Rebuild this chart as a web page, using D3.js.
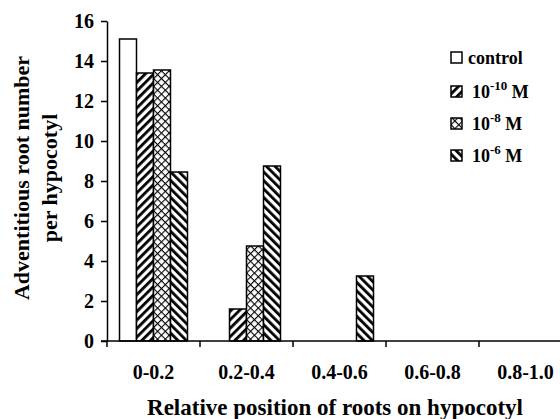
<!DOCTYPE html>
<html>
<head>
<meta charset="utf-8">
<script src="https://cdn.jsdelivr.net/npm/d3@7"></script>
<style>
  body { margin: 0; background: #fff; }
  text { font-family: "Liberation Serif", "Times New Roman", serif; font-weight: bold; fill: #000; }
  .axis path, .axis line { stroke: #000; stroke-width: 1.5; }
</style>
</head>
<body>
<div id="chart-area"></div>
<script>
// SVG Size
var width = 560,
	height = 419;

// data
var positions = ["0-0.2", "0.2-0.4", "0.4-0.6", "0.6-0.8", "0.8-1.0"];
var treatments = ["control", "1e-10", "1e-8", "1e-6"];
var legendExp = [null, "-10", "-8", "-6"];
var control = [15.1, 0, 0, 0, 0];
var conc10 = [13.4, 1.6, 0, 0, 0];
var conc8 = [13.55, 4.75, 0, 0, 0];
var conc6 = [8.45, 8.75, 3.25, 0, 0];
var yTicks = [0, 2, 4, 6, 8, 10, 12, 14, 16];

var series = [control, conc10, conc8, conc6];
var fills = ["#fff", "url(#diagUp)", "url(#cross)", "url(#diagDown)"];

var svg = d3.select("#chart-area")
		.append("svg")
		.attr("width", width)
		.attr("height", height);

// hatch patterns
var defs = svg.append("defs");

var up = defs.append("pattern")
		.attr("id", "diagUp")
		.attr("patternUnits", "userSpaceOnUse")
		.attr("width", 6).attr("height", 6)
		.attr("patternTransform", "rotate(45)");
up.append("rect").attr("width", 6).attr("height", 6).attr("fill", "#fff");
up.append("rect").attr("width", 2.8).attr("height", 6).attr("fill", "#000");

var down = defs.append("pattern")
		.attr("id", "diagDown")
		.attr("patternUnits", "userSpaceOnUse")
		.attr("width", 6).attr("height", 6)
		.attr("patternTransform", "rotate(-45)");
down.append("rect").attr("width", 6).attr("height", 6).attr("fill", "#fff");
down.append("rect").attr("width", 2.8).attr("height", 6).attr("fill", "#000");

var cross = defs.append("pattern")
		.attr("id", "cross")
		.attr("patternUnits", "userSpaceOnUse")
		.attr("width", 5.5).attr("height", 5.5)
		.attr("patternTransform", "rotate(45)");
cross.append("rect").attr("width", 5.5).attr("height", 5.5).attr("fill", "#fff");
cross.append("rect").attr("width", 1.1).attr("height", 5.5).attr("fill", "#000");
cross.append("rect").attr("width", 5.5).attr("height", 1.1).attr("fill", "#000");

// scales
var x = d3.scaleBand()
		.domain(positions)
		.range([107, 572]);

var sub = d3.scaleBand()
		.domain(treatments)
		.range([12.5, 80.5]);

var y = d3.scaleLinear()
		.domain([0, 16])
		.range([341, 21]);

// bars
var groups = svg.selectAll("g.group")
		.data(positions)
		.enter()
		.append("g")
		.attr("class", "group")
		.attr("transform", function(d){ return "translate(" + x(d) + ",0)"; });

groups.selectAll("rect")
		.data(function(d, i){
			return series.map(function(s, j){ return {t: treatments[j], v: s[i], f: fills[j]}; });
		})
		.enter()
		.filter(function(d){ return d.v > 0; })
		.append("rect")
		.attr("x", function(d){ return sub(d.t); })
		.attr("width", sub.bandwidth())
		.attr("y", function(d){ return y(d.v); })
		.attr("height", function(d){ return y(0) - y(d.v); })
		.attr("fill", function(d){ return d.f; })
		.attr("stroke", "#000")
		.attr("stroke-width", 1.5);

// axes
var xAxis = d3.axisBottom(x).tickSize(0).tickPadding(0);
var gx = svg.append("g")
		.attr("class", "axis x-axis")
		.attr("transform", "translate(0," + y(0) + ")")
		.call(xAxis);
gx.select(".domain").remove();
gx.selectAll(".tick text")
		.attr("y", 38)
		.attr("dy", 0)
		.style("font-size", "20px");

// tick marks between categories
svg.append("g")
		.selectAll("line")
		.data(positions)
		.enter()
		.append("line")
		.attr("x1", function(d){ return x(d); })
		.attr("x2", function(d){ return x(d); })
		.attr("y1", y(0))
		.attr("y2", y(0) + 6)
		.attr("stroke", "#000")
		.attr("stroke-width", 1.5);

svg.append("line")
		.attr("x1", 101)
		.attr("x2", width)
		.attr("y1", y(0))
		.attr("y2", y(0))
		.attr("stroke", "#000")
		.attr("stroke-width", 1.5);

var yAxis = d3.axisLeft(y).tickValues(yTicks).tickSize(6).tickPadding(7).tickSizeOuter(0);
var gy = svg.append("g")
		.attr("class", "axis y-axis")
		.attr("transform", "translate(107,0)")
		.call(yAxis);
gy.selectAll(".tick text").style("font-size", "20px").attr("dy", "0.34em");

// axis titles
svg.append("text")
		.attr("x", 335)
		.attr("y", 415)
		.attr("text-anchor", "middle")
		.style("font-size", "23px")
		.text("Relative position of roots on hypocotyl");

var yTitle = svg.append("text")
		.attr("transform", "translate(0,178) rotate(-90)")
		.attr("text-anchor", "middle")
		.style("font-size", "22px");
yTitle.append("tspan").attr("x", 0).attr("y", 29).text("Adventitious root number");
yTitle.append("tspan").attr("x", 0).attr("y", 57).text("per hypocotyl");

// legend
var legendY = [58, 92, 124, 156];
var legend = svg.append("g")
		.selectAll("g")
		.data(treatments)
		.enter()
		.append("g")
		.attr("transform", function(d, i){ return "translate(451," + legendY[i] + ")"; });

legend.append("rect")
		.attr("x", 0)
		.attr("y", -6)
		.attr("width", 11)
		.attr("height", 11)
		.attr("fill", function(d, i){ return fills[i]; })
		.attr("stroke", "#000")
		.attr("stroke-width", 1.5);

legend.each(function(d, i){
	var t = d3.select(this).append("text")
			.attr("x", i === 0 ? 17 : 21)
			.attr("y", 6)
			.style("font-size", "18px");
	if (legendExp[i] === null) {
		t.text("control");
	} else {
		t.append("tspan").text("10");
		t.append("tspan").attr("dy", -8).style("font-size", "13px").text(legendExp[i]);
		t.append("tspan").attr("dy", 8).text(" M");
	}
});
</script>
</body>
</html>
